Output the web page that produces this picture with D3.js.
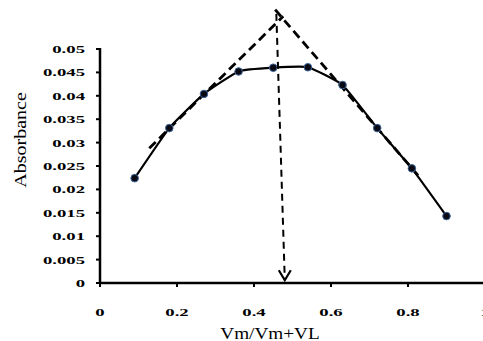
<!DOCTYPE html>
<html lang="en">
<head>
<meta charset="UTF-8">
<title>Absorbance vs Vm/Vm+VL</title>
<script src="https://d3js.org/d3.v7.min.js"></script>
<style>
    body { margin: 0; background: #fff; }
    svg { display: block; }
    .tick-label { font-family: "Liberation Serif", "DejaVu Serif", "Times New Roman", serif; font-weight: bold; font-size: 11px; fill: #000; }
    .axis-title { font-family: "Liberation Serif", "DejaVu Serif", "Times New Roman", serif; font-size: 16px; fill: #000; }
</style>
</head>
<body>
<div id="chart"></div>
<script>
    // data
    var molFraction = [0.09, 0.18, 0.27, 0.36, 0.45, 0.54, 0.63, 0.72, 0.81, 0.90];
    var absorbance  = [0.0224, 0.0331, 0.0404, 0.0452, 0.0460, 0.0461, 0.0423, 0.0331, 0.0245, 0.0143];

    // tangent lines and the arrow at the crossing
    var leftTangent  = [[0.128, 0.0288], [0.476, 0.0570]];
    var rightTangent = [[0.455, 0.0584], [0.826, 0.0230]];
    var dropArrow    = [[0.458, 0.0575], [0.48, 0.0006]];

    var xTicks = [0, 0.2, 0.4, 0.6, 0.8, 1];
    var yTicks = [0, 0.005, 0.01, 0.015, 0.02, 0.025, 0.03, 0.035, 0.04, 0.045, 0.05];

    var W = 483, H = 341;
    var svg = d3.select("#chart").append("svg")
        .attr("width", W)
        .attr("height", H);

    var x = d3.scaleLinear().domain([0, 1]).range([100, 485]);
    var y = d3.scaleLinear().domain([0, 0.05]).range([283, 49]);

    // stretch text horizontally like the source image
    function stretch(sel, k) {
        sel.each(function() {
            var w = this.getComputedTextLength();
            d3.select(this).attr("textLength", w * k).attr("lengthAdjust", "spacingAndGlyphs");
        });
    }

    // y axis
    svg.append("line")
        .attr("x1", x(0)).attr("x2", x(0))
        .attr("y1", y(0) + 1).attr("y2", y(0.05) - 1)
        .attr("stroke", "#000").attr("stroke-width", 2.5);
    svg.selectAll(".ytick").data(yTicks).enter().append("line")
        .attr("x1", x(0) - 4).attr("x2", x(0))
        .attr("y1", function(d) { return y(d); })
        .attr("y2", function(d) { return y(d); })
        .attr("stroke", "#000").attr("stroke-width", 2);
    svg.selectAll(".ylab").data(yTicks).enter().append("text")
        .attr("class", "tick-label")
        .attr("text-anchor", "end")
        .attr("x", 85)
        .attr("y", function(d) { return y(d) + 4; })
        .text(function(d) { return d3.format("")(+d.toFixed(3)); })
        .call(stretch, 1.7);

    // x axis
    svg.append("line")
        .attr("x1", x(0) - 1).attr("x2", W)
        .attr("y1", y(0)).attr("y2", y(0))
        .attr("stroke", "#000").attr("stroke-width", 2.5);
    svg.selectAll(".xtick").data(xTicks).enter().append("line")
        .attr("x1", function(d) { return x(d); })
        .attr("x2", function(d) { return x(d); })
        .attr("y1", y(0)).attr("y2", y(0) + 4)
        .attr("stroke", "#000").attr("stroke-width", 2);
    svg.selectAll(".xlab").data(xTicks).enter().append("text")
        .attr("class", "tick-label")
        .attr("text-anchor", "middle")
        .attr("x", function(d) { return x(d); })
        .attr("y", 316)
        .text(function(d) { return d; })
        .call(stretch, 1.7);

    // axis titles
    svg.append("text")
        .attr("class", "axis-title")
        .attr("text-anchor", "middle")
        .attr("x", 270).attr("y", 339)
        .text("Vm/Vm+VL")
        .call(stretch, 1.2);
    svg.append("text")
        .attr("class", "axis-title")
        .attr("text-anchor", "middle")
        .attr("transform", "translate(26,140) rotate(-90)")
        .text("Absorbance")
        .call(stretch, 1.25);

    // dashed tangents
    var straight = d3.line()
        .x(function(d) { return x(d[0]); })
        .y(function(d) { return y(d[1]); });
    [leftTangent, rightTangent].forEach(function(seg) {
        svg.append("path")
            .attr("d", straight(seg))
            .attr("fill", "none")
            .attr("stroke", "#000")
            .attr("stroke-width", 2.8)
            .attr("stroke-dasharray", "9,5");
    });

    // data curve
    var pts = molFraction.map(function(v, i) { return [v, absorbance[i]]; });
    var curve = d3.line()
        .x(function(d) { return x(d[0]); })
        .y(function(d) { return y(d[1]); })
        .curve(d3.curveCardinal.tension(0.6));
    svg.append("path")
        .attr("d", curve(pts))
        .attr("fill", "none")
        .attr("stroke", "#000")
        .attr("stroke-width", 2.2);

    svg.selectAll(".pt").data(pts).enter().append("circle")
        .attr("cx", function(d) { return x(d[0]); })
        .attr("cy", function(d) { return y(d[1]); })
        .attr("r", 3.8)
        .attr("fill", "#0a0a14")
        .attr("stroke", "#3d6699")
        .attr("stroke-width", 1);

    // vertical dashed arrow
    svg.append("path")
        .attr("d", straight(dropArrow))
        .attr("fill", "none")
        .attr("stroke", "#000")
        .attr("stroke-width", 2)
        .attr("stroke-dasharray", "7,5");
    var tipX = x(dropArrow[1][0]), tipY = y(dropArrow[1][1]);
    svg.append("path")
        .attr("d", "M" + (tipX - 6) + "," + (tipY - 10) + "L" + tipX + "," + tipY + "L" + (tipX + 6) + "," + (tipY - 10))
        .attr("fill", "none")
        .attr("stroke", "#000")
        .attr("stroke-width", 2.2);
</script>
</body>
</html>
